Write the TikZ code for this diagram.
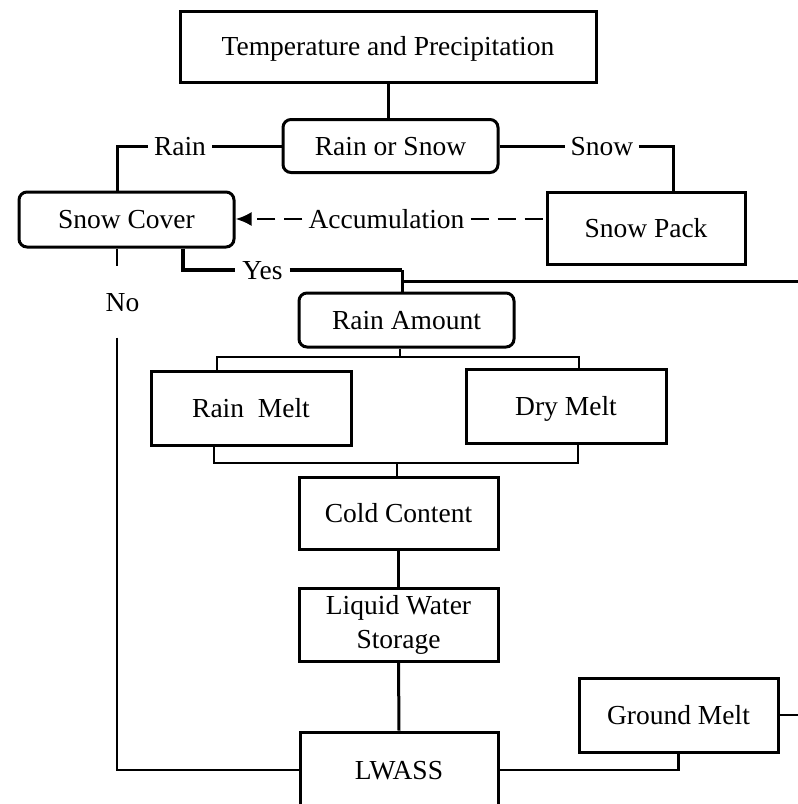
\documentclass[tikz,border=0pt]{standalone}
\usepackage{fontspec}
\setmainfont{Liberation Serif}
\usetikzlibrary{arrows.meta}
\newcommand\fsz{\fontsize{27.5}{34}\selectfont}
\tikzset{
  box/.style={draw, line width=3pt, inner sep=0pt, font=\fsz, align=center},
  one/.style={text height=18pt, text depth=0pt},
  rbox/.style={box, one, rounded corners=8pt},
  lbl/.style={one, inner xsep=6pt, inner ysep=0pt, font=\fsz},
  conn/.style={line width=3pt},
  thinline/.style={line width=2.2pt},
  yesline/.style={line width=4.5pt},
  dashline/.style={line width=2.6pt, dash pattern=on 18pt off 9pt},
}
\begin{document}
\begin{tikzpicture}[x=1pt,y=-1pt]
\useasboundingbox (0,0) rectangle (798,804);
% helper coordinates
\coordinate (xL) at (117,0);
\coordinate (xY) at (183,0);
\coordinate (xM) at (402,0);
\coordinate (xS) at (673,0);
\coordinate (xRb) at (217,0);
\coordinate (xDb) at (579,0);
\coordinate (xRm) at (214,0);
\coordinate (xDm) at (578,0);
\coordinate (xCc) at (397,0);
\coordinate (xRa) at (400,0);
\coordinate (yB1) at (0,357);
\coordinate (yB2) at (0,463);
\coordinate (Rend) at (800,281);
\coordinate (Gend) at (800,0);
% boxes
\node[box, one, minimum width=416pt, minimum height=71pt] (TP) at (388,46.5) {Temperature and Precipitation};
\node[rbox, minimum width=215pt, minimum height=53pt] (RS) at (390.5,146) {Rain or Snow};
\node[rbox, minimum width=215pt, minimum height=55pt] (SC) at (126.5,219.5) {Snow Cover};
\node[box, one, minimum width=198pt, minimum height=72pt] (SP) at (646,228) {Snow Pack};
\node[rbox, minimum width=215pt, minimum height=54pt] (RA) at (406.5,320) {Rain Amount};
\node[box, one, minimum width=200pt, minimum height=74pt] (RM) at (251,408) {Rain\ \ Melt};
\node[box, one, minimum width=200pt, minimum height=74pt] (DM) at (566,406) {Dry Melt};
\node[box, one, minimum width=199pt, minimum height=72pt] (CC) at (398.5,513) {Cold Content};
\node[box, minimum width=199pt, minimum height=73pt] (LWS) at (398.5,624.5) {Liquid Water\\Storage};
\node[box, one, minimum width=198pt, minimum height=76pt] (LW) at (399,770) {LWASS};
\node[box, one, minimum width=199pt, minimum height=74pt] (GM) at (678.5,715) {Ground Melt};
% labels
\node[lbl] (Rain) at (180,146) {Rain};
\node[lbl, inner xsep=5pt] (Snow) at (602,146) {Snow};
\node[lbl, inner xsep=6pt] (Acc) at (386.5,219) {Accumulation};
\node[lbl, inner xsep=7pt] (Yes) at (262.5,270) {Yes};
\node[one, font=\fsz, inner sep=0pt, minimum height=71pt] (No) at (122.5,302) {No};
% connectors
\draw[conn] (TP.south) -- (TP.south |- RS.north);
\draw[conn] (RS.west) -- (Rain.east);
\draw[conn] (Rain.west) -| (SC.north -| xL);
\draw[conn] (RS.east) -- (Snow.west);
\draw[conn] (Snow.east) -| (SP.north -| xS);
\draw[dashline] (Acc.east) -- (Acc.east -| SP.west);
\draw[dashline, -{Latex[length=16pt,width=14pt]}] (Acc.west) -- (Acc.west -| SC.east);
\draw[yesline] (SC.south -| xY) |- (Yes.west);
\draw[yesline] (Yes.east) -- (Yes.east -| xM);
\draw[conn] (Yes.east -| xM) -- (RA.north -| xM);
\draw[conn] (Rend -| xM) -- (Rend);
\draw[thinline] (RA.south -| xRa) -- (yB1 -| xRa);
\draw[thinline] (RM.north -| xRb) -- (yB1 -| xRb) -- (yB1 -| xDb) -- (DM.north -| xDb);
\draw[thinline] (RM.south -| xRm) -- (yB2 -| xRm) -- (yB2 -| xDm) -- (DM.south -| xDm);
\draw[thinline] (yB2 -| xCc) -- (CC.north -| xCc);
\draw[conn] (CC.south) -- (LWS.north);
\draw[conn] (LWS.south) -- (LW.north);
\draw[thinline] (SC.south -| xL) -- (No.north -| xL);
\draw[thinline] (No.south -| xL) |- (LW.west);
\draw[thinline] (GM.south) |- (LW.east);
\draw[thinline] (GM.east) -- (GM.east -| Gend);
\end{tikzpicture}
\end{document}
